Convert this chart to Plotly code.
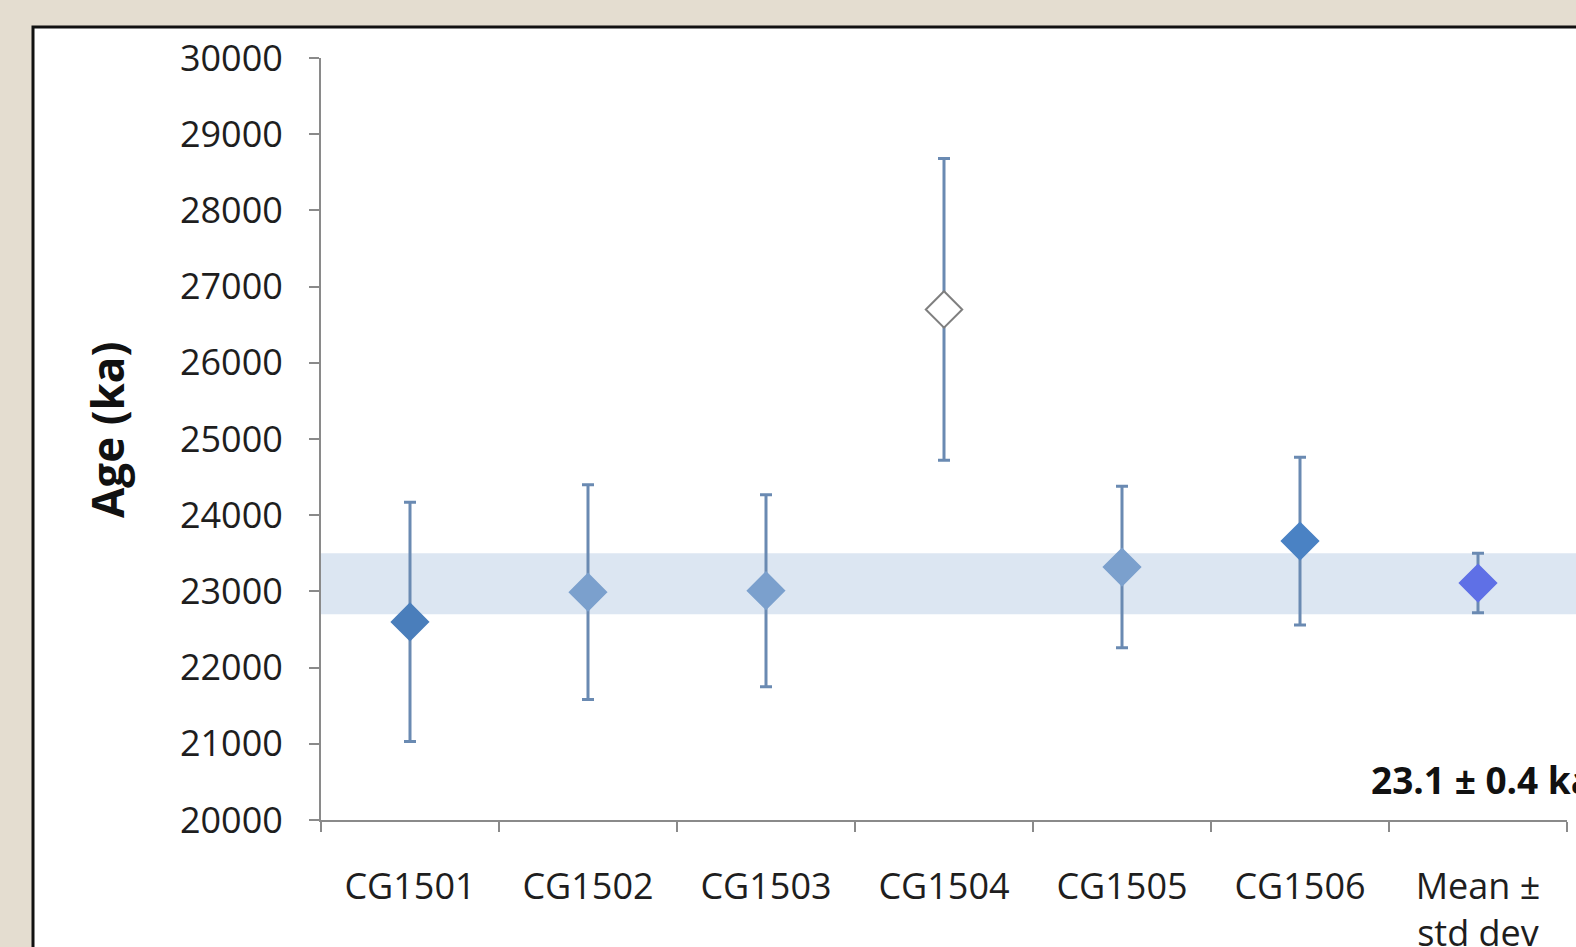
import plotly.graph_objects as go

samples = ["CG1501", "CG1502", "CG1503", "CG1504", "CG1505", "CG1506", "Mean ±<br>std dev"]
ages = [22600, 22990, 23010, 26700, 23320, 23660, 23110]
errors = [1570, 1410, 1260, 1980, 1060, 1100, 390]
marker_colors = ["#4a7ebb", "#7ba0cd", "#7ba0cd", "#ffffff", "#7ba0cd", "#4a82c4", "#5f70e6"]
marker_lines = ["#4a7ebb", "#7ba0cd", "#7ba0cd", "#7f7f7f", "#7ba0cd", "#4a82c4", "#5f70e6"]
band_low, band_high = 22700, 23500
y_ticks = [20000, 21000, 22000, 23000, 24000, 25000, 26000, 27000, 28000, 29000, 30000]
y_tick_text = [str(v) for v in y_ticks]
mean_label = "23.1 ± 0.4 ka"
y_title = "Age (ka)"

W, H = 1576, 947
L = 321
T = 58
R = W - 1567
B = H - 820
pw = W - L - R
ph = H - T - B

def px_x(p):
    return (p - L) / pw

def px_y(p):
    return (H - B - p) / ph

fig = go.Figure()
fig.add_trace(go.Scatter(
    x=samples, y=ages,
    mode="markers",
    marker=dict(symbol="diamond", size=28, color=marker_colors,
                line=dict(color=marker_lines, width=2)),
    error_y=dict(type="data", array=errors, visible=True,
                 color="#6a8ab2", thickness=3, width=6),
    showlegend=False,
))

# white panel with black border
fig.add_shape(type="rect", xref="paper", yref="paper",
              x0=px_x(33), x1=px_x(1700), y0=px_y(27), y1=px_y(1100),
              fillcolor="#ffffff", line=dict(color="#111111", width=3), layer="below")
# mean band
fig.add_shape(type="rect", xref="paper", yref="y",
              x0=0, x1=1.05, y0=band_low, y1=band_high,
              fillcolor="#dce6f2", line=dict(width=0), layer="below")

fig.add_annotation(text="<b>" + y_title + "</b>", xref="paper", yref="paper",
                   x=px_x(107), y=px_y(430), textangle=-90, showarrow=False,
                   xanchor="center", yanchor="middle",
                   font=dict(family="Open Sans", size=44, color="#111111"))
fig.add_annotation(text="<b>" + mean_label + "</b>", xref="paper", yref="paper",
                   x=px_x(1369), y=px_y(779), xanchor="left", yanchor="middle",
                   showarrow=False,
                   font=dict(family="Open Sans", size=37, color="#111111"))

fig.update_layout(
    width=W, height=H,
    margin=dict(l=L, r=R, t=T, b=B),
    paper_bgcolor="#e4ddd0",
    plot_bgcolor="rgba(0,0,0,0)",
    font=dict(family="Open Sans", size=36, color="#1e1e1e"),
    xaxis=dict(type="category", range=[-0.5, 6.5], showgrid=False, zeroline=False,
               automargin=False,
               showline=True, linecolor="#8a8a8a", linewidth=2,
               ticks="outside", ticklen=10, tickwidth=2, tickcolor="#8a8a8a",
               tickson="boundaries", ticklabelstandoff=34,
               tickfont=dict(family="Open Sans", size=36, color="#1e1e1e")),
    yaxis=dict(range=[20000, 30000], tickvals=y_ticks, ticktext=y_tick_text,
               automargin=False,
               showgrid=False, zeroline=False,
               showline=True, linecolor="#8a8a8a", linewidth=2,
               ticks="outside", ticklen=10, tickwidth=2, tickcolor="#8a8a8a",
               ticklabelstandoff=19,
               tickfont=dict(family="Open Sans", size=36, color="#1e1e1e")),
)

fig.write_html(
    "out.html",
    config={"displayModeBar": False},
    post_script=("document.body.style.margin='0';"
                 "document.body.style.overflow='hidden';"
                 "document.documentElement.style.overflow='hidden';"),
)
